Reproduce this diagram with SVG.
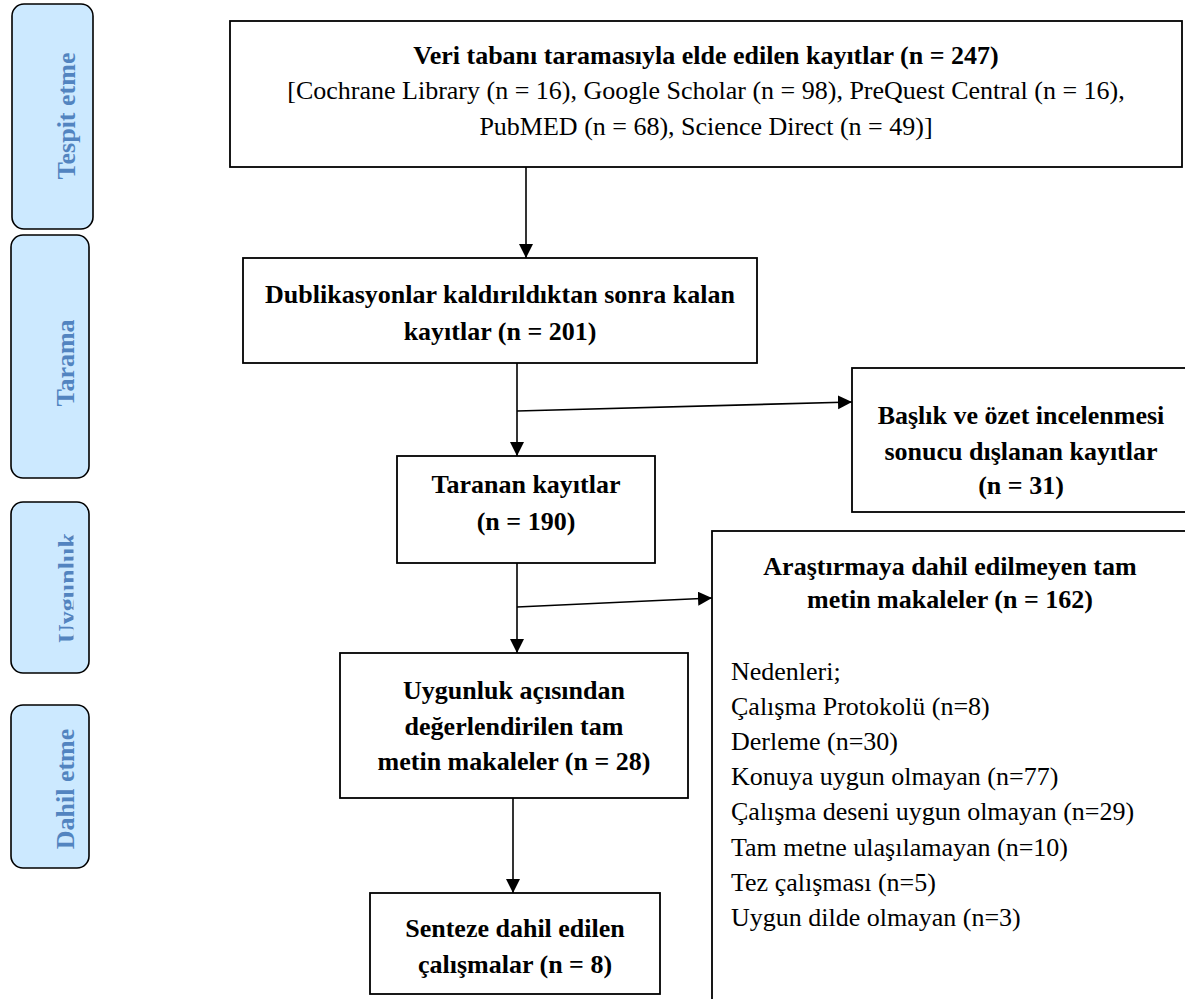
<svg xmlns="http://www.w3.org/2000/svg" width="1185" height="999" viewBox="0 0 1185 999">
<style>
  .lbl rect { fill: #cce9ff; stroke: #000; stroke-width: 1.6; }
  .lbl text { font-family: "Liberation Serif", "Times New Roman", serif; font-weight: bold; font-size: 26px; fill: #5284c0; text-anchor: middle; }
  .box rect { fill: #fff; stroke: #000; stroke-width: 1.8; }
  .box text { font-family: "Liberation Serif", "Times New Roman", serif; font-size: 26px; fill: #000; }
  .b { font-weight: bold; }
  .c { text-anchor: middle; }
  .conn line { stroke: #000; stroke-width: 1.6; fill: none; }
</style>
<defs>
  <marker id="ah" markerUnits="userSpaceOnUse" markerWidth="16" markerHeight="16" refX="14" refY="7" orient="auto">
    <path d="M0,0 L14,7 L0,14 z" fill="#000"/>
  </marker>
  <clipPath id="uclip"><rect x="0" y="490" width="73.5" height="200"/></clipPath>
</defs>
<rect width="1185" height="999" fill="#fff"/>

<g id="lbl-tespit" class="lbl">
  <rect x="12" y="4" width="81" height="225" rx="12"/>
  <text transform="translate(75,116) rotate(-90)">Tespit etme</text>
</g>
<g id="lbl-tarama" class="lbl">
  <rect x="11" y="235" width="78" height="243" rx="12"/>
  <text transform="translate(74,363) rotate(-90)">Tarama</text>
</g>
<g id="lbl-uygunluk" class="lbl">
  <rect x="11" y="502" width="78" height="171" rx="12"/>
  <g clip-path="url(#uclip)"><text transform="translate(76,588) rotate(-90)">Uygunluk</text></g>
</g>
<g id="lbl-dahil" class="lbl">
  <rect x="11" y="705" width="78" height="163" rx="12"/>
  <text transform="translate(74,789) rotate(-90)">Dahil etme</text>
</g>

<g id="n-veritabani" class="box">
  <rect x="230" y="21" width="952" height="146"/>
  <text class="b c" x="706" y="64">Veri tabanı taramasıyla elde edilen kayıtlar (n = 247)</text>
  <text class="c" x="706" y="99">[Cochrane Library (n = 16), Google Scholar (n = 98), PreQuest Central (n = 16),</text>
  <text class="c" x="706" y="135">PubMED (n = 68), Science Direct (n = 49)]</text>
</g>
<g id="n-dublikasyon" class="box">
  <rect x="243" y="258" width="514" height="105"/>
  <text class="b c" x="500" y="303">Dublikasyonlar kaldırıldıktan sonra kalan</text>
  <text class="b c" x="500" y="340">kayıtlar (n = 201)</text>
</g>
<g id="n-baslik" class="box">
  <rect x="852" y="368" width="345" height="144"/>
  <text class="b c" x="1021" y="424">Başlık ve özet incelenmesi</text>
  <text class="b c" x="1021" y="460">sonucu dışlanan kayıtlar</text>
  <text class="b c" x="1021" y="494">(n = 31)</text>
</g>
<g id="n-taranan" class="box">
  <rect x="397" y="456" width="258" height="107"/>
  <text class="b c" x="526" y="493">Taranan kayıtlar</text>
  <text class="b c" x="526" y="530">(n = 190)</text>
</g>
<g id="n-arastirma" class="box">
  <rect x="712" y="531" width="490" height="490"/>
  <text class="b c" x="950" y="575">Araştırmaya dahil edilmeyen tam</text>
  <text class="b c" x="950" y="608">metin makaleler (n = 162)</text>
  <text x="731" y="680">Nedenleri;</text>
  <text x="731" y="715">Çalışma Protokolü (n=8)</text>
  <text x="731" y="750">Derleme (n=30)</text>
  <text x="731" y="785">Konuya uygun olmayan (n=77)</text>
  <text x="731" y="820">Çalışma deseni uygun olmayan (n=29)</text>
  <text x="731" y="856">Tam metne ulaşılamayan (n=10)</text>
  <text x="731" y="891">Tez çalışması (n=5)</text>
  <text x="731" y="926">Uygun dilde olmayan (n=3)</text>
</g>
<g id="n-uygunluk" class="box">
  <rect x="340" y="653" width="348" height="145"/>
  <text class="b c" x="514" y="699">Uygunluk açısından</text>
  <text class="b c" x="514" y="735">değerlendirilen tam</text>
  <text class="b c" x="514" y="770">metin makaleler (n = 28)</text>
</g>
<g id="n-sentez" class="box">
  <rect x="370" y="893" width="290" height="101"/>
  <text class="b c" x="515" y="937">Senteze dahil edilen</text>
  <text class="b c" x="515" y="973">çalışmalar (n = 8)</text>
</g>

<g id="connectors" class="conn">
  <line x1="526" y1="167" x2="526" y2="258" marker-end="url(#ah)"/>
  <line x1="517" y1="363" x2="517" y2="456" marker-end="url(#ah)"/>
  <line x1="517" y1="411" x2="852" y2="402" marker-end="url(#ah)"/>
  <line x1="517" y1="563" x2="517" y2="653" marker-end="url(#ah)"/>
  <line x1="517" y1="607" x2="712" y2="598" marker-end="url(#ah)"/>
  <line x1="513" y1="798" x2="513" y2="893" marker-end="url(#ah)"/>
</g>
</svg>
